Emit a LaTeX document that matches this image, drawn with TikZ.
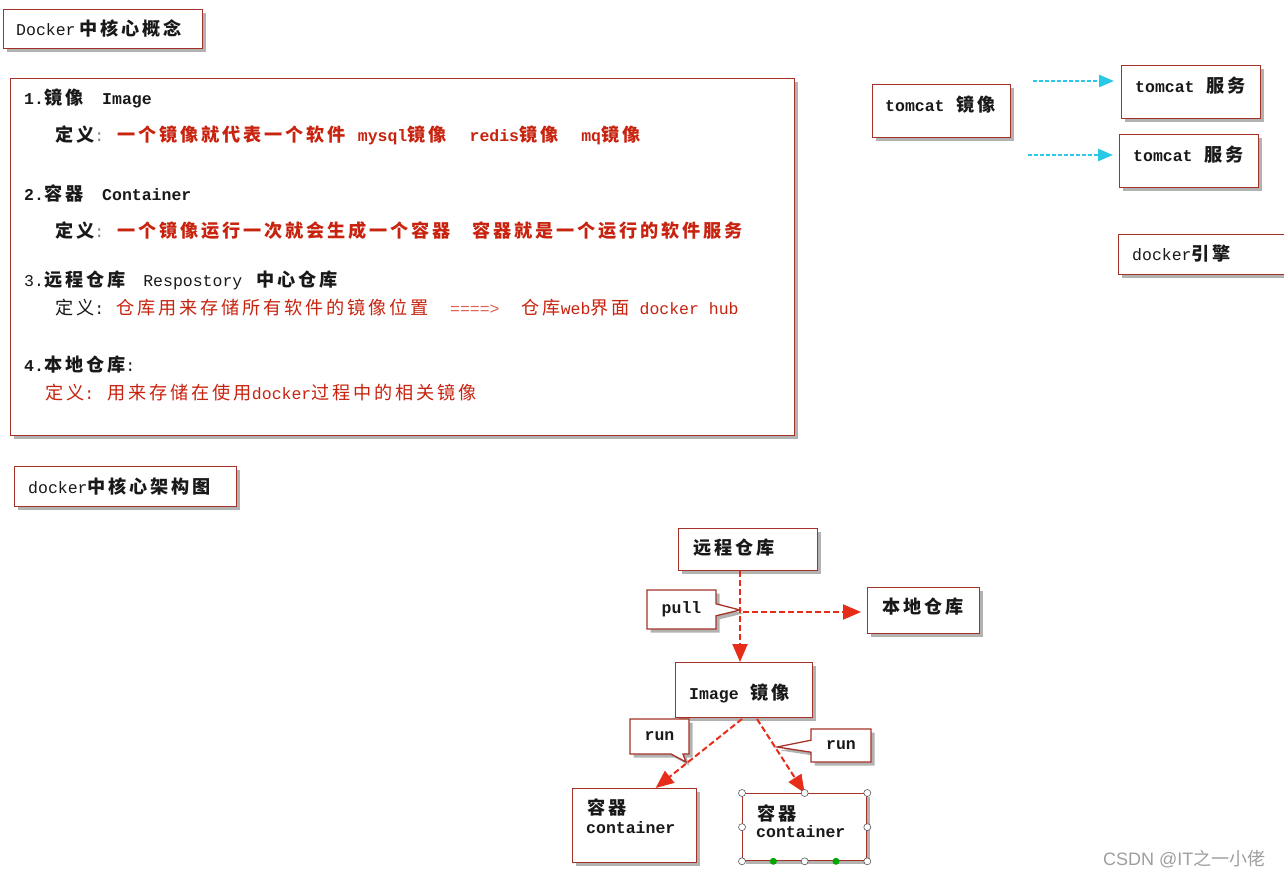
\documentclass[tikz,border=0pt]{standalone}
\usepackage{fontspec}
\setmainfont{Liberation Mono}
\newfontfamily\cjk[LetterSpace=16, Scale=1.1]{Noto Sans CJK SC}
\newfontfamily\wmcjk{Noto Sans CJK SC}
\newfontfamily\wmsans{Liberation Sans}
\usetikzlibrary{shadows,shapes.callouts,arrows.meta,calc}
\newcommand\zh[1]{{\cjk #1}}
\newcommand\zhb[1]{{\cjk\bfseries #1}}
\newcommand\fsz{\fontsize{16.5}{19}\selectfont}
\definecolor{boxred}{RGB}{165,50,40}
\definecolor{txtred}{RGB}{200,35,15}
\definecolor{lightred}{RGB}{225,95,80}
\definecolor{arrowred}{RGB}{230,45,25}
\definecolor{arrowcyan}{RGB}{40,200,230}
\definecolor{txtblack}{RGB}{25,25,25}
\tikzset{
  box/.style={draw=boxred, line width=1.3pt, fill=white, rectangle, inner sep=0pt,
    anchor=north west, drop shadow={shadow xshift=3.5pt, shadow yshift=-3.5pt, fill=black, opacity=0.3}},
  callbox/.style={rectangle callout, draw=boxred, line width=1.3pt, fill=white, inner sep=0pt,
    callout pointer width=12pt, text=txtblack, font=\fsz\bfseries,
    drop shadow={shadow xshift=3.5pt, shadow yshift=-3.5pt, fill=black, opacity=0.3}},
  txt/.style={anchor=base west, inner sep=0pt, text=txtblack},
  btxt/.style={anchor=base west, inner sep=0pt, text=txtblack, font=\fsz\bfseries},
  redtxt/.style={anchor=base west, inner sep=0pt, text=txtred, font=\fsz\bfseries},
  redarrow/.style={draw=arrowred, line width=2pt, dash pattern=on 6pt off 3pt,
    -{Triangle[length=18pt,width=15pt]}},
  cyanarrow/.style={draw=arrowcyan, line width=2.4pt, dash pattern=on 4pt off 2pt,
    -{Triangle[length=15pt,width=12pt]}},
  handle/.style={circle, draw=gray!70!black, fill=white, line width=0.6pt, inner sep=0pt, minimum size=7pt},
  ghandle/.style={circle, fill=green!65!black, inner sep=0pt, minimum size=7pt},
  every node/.append style={font=\fsz}
}
\begin{document}
\begin{tikzpicture}[x=1pt,y=-1pt]
\useasboundingbox[fill=white] (0,0) rectangle (1284,878);

% ---- title box
\node[box, minimum width=199, minimum height=39] (title) at (3,9) {};
\node[txt] (titleT) at (16,35) {Docker\hspace{4pt}\zhb{中核心概念}};

% ---- definitions box
\node[box, minimum width=784, minimum height=357] (defs) at (10,78) {};
\node[btxt] (d1) at (24,104) {1.\zh{镜像}\hspace{19pt}Image};
\node[btxt] (d1a) at (55,141) {\zh{定义}{\mdseries\color{gray}:}};
\node[redtxt] (d1b) at (117,141) {\zh{一个镜像就代表一个软件}\hspace{12pt}mysql\zh{镜像}\hspace{23pt}redis\zh{镜像}\hspace{23pt}mq\zh{镜像}};
\node[btxt] (d2) at (24,200) {2.\zh{容器}\hspace{19pt}Container};
\node[btxt] (d2a) at (55,237) {\zh{定义}{\mdseries\color{gray}:}};
\node[redtxt] (d2b) at (117,237) {\zh{一个镜像运行一次就会生成一个容器}\hspace{21pt}\zh{容器就是一个运行的软件服务}};
\node[txt] (d3) at (24,286) {3.\zhb{远程仓库}\hspace{18pt}Respostory\hspace{14pt}\zhb{中心仓库}};
\node[txt] (d3a) at (55,314) {\zh{定义}:};
\node[redtxt, font=\fsz] (d3b) at (116,314) {\zh{仓库用来存储所有软件的镜像位置}\hspace{21pt}{\color{lightred}====>}\hspace{22pt}\zh{仓库}web\zh{界面} docker hub};
\node[btxt] (d4) at (24,371) {4.\zh{本地仓库}{\mdseries :}};
\node[redtxt, font=\fsz] (d4a) at (45,399) {\zh{定义}: \zh{用来存储在使用}docker\zh{过程中的相关镜像}};

% ---- architecture heading
\node[box, minimum width=222, minimum height=40] (arch) at (14,466) {};
\node[txt] (archT) at (28,493) {docker\zhb{中核心架构图}};

% ---- tomcat example
\node[box, minimum width=138, minimum height=53] (timg) at (872,84) {};
\node[btxt] (timgT) at (885,111) {tomcat\hspace{12pt}\zh{镜像}};
\node[box, minimum width=139, minimum height=53] (ts1) at (1121,65) {};
\node[btxt] (ts1T) at (1135,92) {tomcat\hspace{12pt}\zh{服务}};
\node[box, minimum width=139, minimum height=53] (ts2) at (1119,134) {};
\node[btxt] (ts2T) at (1133,161) {tomcat\hspace{12pt}\zh{服务}};
\node[box, minimum width=175, minimum height=40] (engine) at (1118,234) {};
\node[txt] (engineT) at (1132,260) {docker\zhb{引擎}};
\coordinate (cs1) at (1033,81);
\coordinate (cs2) at (1028,155);
\draw[cyanarrow, shorten >=7pt] (cs1) -- (cs1 -| ts1.west);
\draw[cyanarrow, shorten >=6pt] (cs2) -- (cs2 -| ts2.west);

% ---- architecture diagram
\node[box, minimum width=139, minimum height=42] (remote) at (678,528) {};
\node[btxt] (remoteT) at (693,554) {\zh{远程仓库}};
\node[box, minimum width=112, minimum height=46] (local) at (867,587) {};
\node[btxt] (localT) at (882,613) {\zh{本地仓库}};
\node[box, minimum width=137, minimum height=55] (image) at (675,662) {};
\node[btxt] (imageT) at (689,699) {Image\hspace{12pt}\zh{镜像}};
\node[box, minimum width=124, minimum height=74] (c1) at (572,788) {};
\node[btxt] (c1a) at (587,814) {\zh{容器}};
\node[btxt] (c1b) at (586,833) {container};
\node[box, minimum width=124, minimum height=67] (c2) at (742,793) {};
\node[btxt] (c2a) at (757,820) {\zh{容器}};
\node[btxt] (c2b) at (756,837) {container};

\coordinate (pj) at (740,610);
\coordinate (r1s) at (742,719);
\coordinate (r2s) at (757,719);

\node[callbox, minimum width=69, minimum height=39, callout absolute pointer={(pj)}] (pull) at (681.5,609.5) {pull};
\node[callbox, minimum width=59, minimum height=35, callout absolute pointer={(686,762)}] (run1) at (659.5,736.5) {run};
\node[callbox, minimum width=60, minimum height=33, callout absolute pointer={(777,747)}] (run2) at (841,745.5) {run};

\draw[redarrow] (remote.south -| pj) -- (image.north -| pj);
\draw[redarrow, shorten >=6pt] ([xshift=3pt,yshift=-2pt]pj) -- ([yshift=-2pt]pj -| local.west);
\draw[redarrow] (r1s) -- ($(c1.north)+(21,0)$);
\draw[redarrow] (r2s) -- (c2.north);

% selection handles on second container
\foreach \a in {north west,north,north east,west,east,south west,south,south east}
  \node[handle] at (c2.\a) {};
\node[ghandle] (g1) at ($(c2.south west)!0.25!(c2.south east)$) {};
\node[ghandle] (g2) at ($(c2.south west)!0.75!(c2.south east)$) {};

% watermark
\node[anchor=base west, inner sep=0pt, text=gray!75, font=\fontsize{18}{21}\selectfont] (wm) at (1103,865) {{\wmsans CSDN @IT}{\wmcjk 之一小佬}};
\end{tikzpicture}
\end{document}
